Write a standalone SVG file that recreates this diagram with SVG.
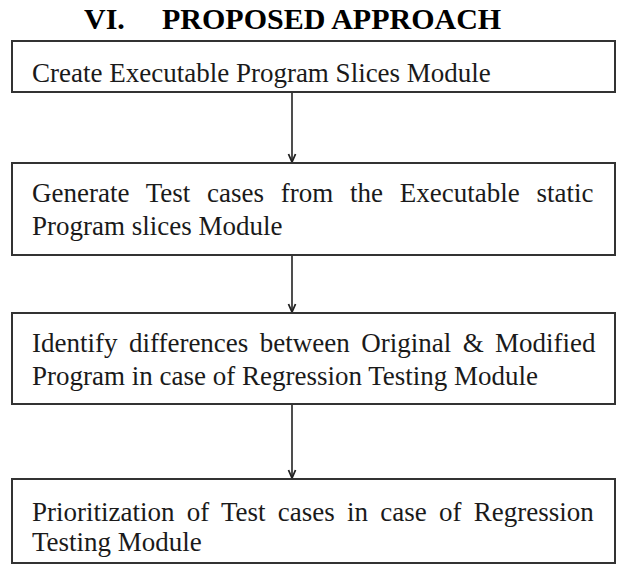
<svg xmlns="http://www.w3.org/2000/svg" width="622" height="565" viewBox="0 0 622 565">
  <style>
    .box { fill: #ffffff; stroke: #333333; stroke-width: 2; }
    .label { font-size: 27px; fill: #1a1a1a; }
    .title { font-size: 30px; font-weight: bold; fill: #000000; }
    .link { stroke: #222222; stroke-width: 1.6; fill: none; }
  </style>
  <defs>
    <marker id="arrow" viewBox="0 0 10 10" refX="9" refY="5" markerWidth="10" markerHeight="10" markerUnits="userSpaceOnUse" orient="auto">
      <path d="M1,1.5 L9,5 L1,8.5" fill="none" stroke="#222222" stroke-width="1.8"/>
    </marker>
  </defs>
  <rect width="622" height="565" fill="#ffffff"/>

  <g font-family="'Liberation Serif', Tinos, 'Times New Roman', 'DejaVu Serif', serif">
    <g id="heading">
      <text class="title" x="84" y="29">VI.</text>
      <text class="title" x="162" y="29">PROPOSED APPROACH</text>
    </g>

    <g id="connectors">
      <line class="link" x1="292" y1="92" x2="292" y2="162" marker-end="url(#arrow)"/>
      <line class="link" x1="292" y1="256" x2="292" y2="312" marker-end="url(#arrow)"/>
      <line class="link" x1="292" y1="404" x2="292" y2="478" marker-end="url(#arrow)"/>
    </g>

    <g id="slices">
      <rect class="box" x="12" y="41" width="603" height="51"/>
      <text class="label" x="32" y="82">Create Executable Program Slices Module</text>
    </g>

    <g id="generate">
      <rect class="box" x="12" y="163" width="603" height="92"/>
      <text class="label" x="32" y="202" word-spacing="10">Generate Test cases from the Executable static</text>
      <text class="label" x="32" y="235">Program slices Module</text>
    </g>

    <g id="differences">
      <rect class="box" x="12" y="313" width="603" height="91"/>
      <text class="label" x="32" y="352" word-spacing="4.7">Identify differences between Original &amp; Modified</text>
      <text class="label" x="32" y="385">Program in case of Regression Testing Module</text>
    </g>

    <g id="prioritization">
      <rect class="box" x="12" y="479" width="603" height="84"/>
      <text class="label" x="32" y="521" word-spacing="5.5">Prioritization of Test cases in case of Regression</text>
      <text class="label" x="32" y="551">Testing Module</text>
    </g>
  </g>
</svg>
